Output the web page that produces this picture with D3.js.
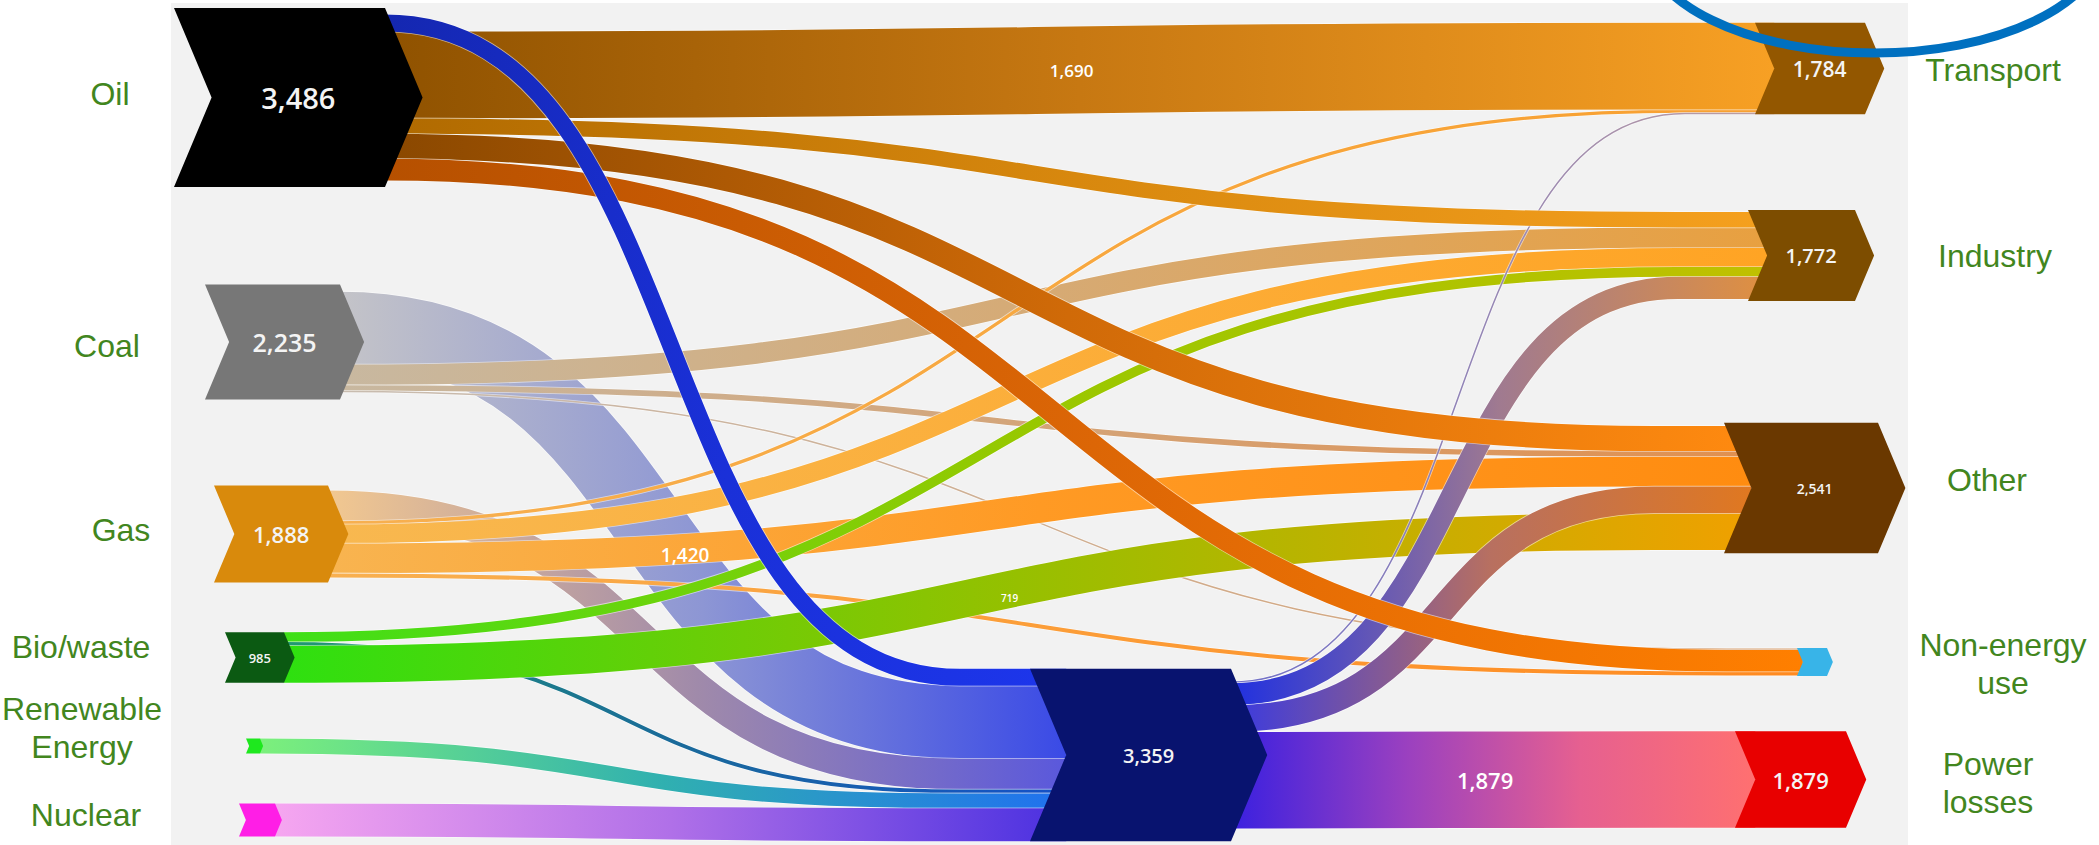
<!DOCTYPE html>
<html>
<head>
<meta charset="utf-8">
<script src="https://cdn.jsdelivr.net/npm/d3@7"></script>
<style>
  body { margin: 0; background: #ffffff; }
  svg { display: block; }
</style>
</head>
<body>
<script>
// Global variable
const w = 2099;
const h = 845;

// Nodes and their totals
const nodeNames = ["Oil", "Coal", "Gas", "Bio/waste", "Renewable Energy", "Nuclear",
                   "Power", "Transport", "Industry", "Other", "Non-energy use", "Power losses"];
const nodeValues = [3486, 2235, 1888, 985, 290, 640, 3359, 1784, 1772, 2541, 545, 1879];

// Flows, listed in the order they leave each source
const linkSources = ["Oil", "Oil", "Oil", "Oil", "Oil",
                     "Coal", "Coal", "Coal", "Coal",
                     "Gas", "Gas", "Gas", "Gas", "Gas",
                     "Bio/waste", "Bio/waste", "Bio/waste",
                     "Renewable Energy", "Nuclear",
                     "Power", "Power", "Power", "Power"];
const linkTargets = ["Power", "Transport", "Industry", "Other", "Non-energy use",
                     "Power", "Industry", "Other", "Non-energy use",
                     "Power", "Transport", "Industry", "Other", "Non-energy use",
                     "Industry", "Power", "Other",
                     "Power", "Power",
                     "Transport", "Industry", "Other", "Power losses"];
const linkValues = [330, 1690, 300, 490, 420,
                    1420, 400, 110, 30,
                    600, 64, 370, 580, 80,
                    190, 76, 719,
                    290, 640,
                    30, 432, 520, 1879];

// Side labels (text lines)
const labelLines = {
  "Oil": ["Oil"], "Coal": ["Coal"], "Gas": ["Gas"], "Bio/waste": ["Bio/waste"],
  "Renewable Energy": ["Renewable", "Energy"], "Nuclear": ["Nuclear"],
  "Transport": ["Transport"], "Industry": ["Industry"], "Other": ["Other"],
  "Non-energy use": ["Non-energy", "use"], "Power losses": ["Power", "losses"]
};

// ---- layout & style ----
const nodeLayout = {
  "Oil":              {x0: 174,  xr: 385,  cy: 97.5},
  "Coal":             {x0: 205,  xr: 340,  cy: 342},
  "Gas":              {x0: 214,  xr: 328,  cy: 534},
  "Bio/waste":        {x0: 225,  xr: 284,  cy: 657.5},
  "Renewable Energy": {x0: 246,  xr: 260,  cy: 746},
  "Nuclear":          {x0: 239,  xr: 275,  cy: 820},
  "Power":            {x0: 1030, xr: 1231, cy: 755},
  "Transport":        {x0: 1755, xr: 1865, cy: 68.5},
  "Industry":         {x0: 1748, xr: 1855, cy: 255.5},
  "Other":            {x0: 1724, xr: 1878, cy: 488},
  "Non-energy use":   {x0: 1797, xr: 1827, cy: 662},
  "Power losses":     {x0: 1735, xr: 1846, cy: 779.5}
};

const inOrder = {
  "Power": ["Oil", "Coal", "Gas", "Bio/waste", "Renewable Energy", "Nuclear"],
  "Transport": ["Oil", "Gas", "Power"],
  "Industry": ["Oil", "Coal", "Gas", "Bio/waste", "Power"],
  "Other": ["Oil", "Coal", "Gas", "Power", "Bio/waste"],
  "Non-energy use": ["Coal", "Oil", "Gas"],
  "Power losses": ["Power"]
};

const nodeColors = {
  "Oil": "#000000", "Coal": "#777777", "Gas": "#d98a0c", "Bio/waste": "#0b5a12",
  "Renewable Energy": "#1ee81e", "Nuclear": "#ff1ee6", "Power": "#08136f",
  "Transport": "#935700", "Industry": "#7d4d00", "Other": "#6a3800",
  "Non-energy use": "#38b4e8", "Power losses": "#e80000"
};

const linkColors = {
  "Oil>Power": ["#1427b0", "#1a30d8", "#1d36ec"],
  "Oil>Transport": ["#8f5200", "#c77812", "#f7a024"],
  "Oil>Industry": ["#b06a00", "#d8880e", "#f5a01e"],
  "Oil>Other": ["#8a4800", "#d06a08", "#ff8a10"],
  "Oil>Non-energy use": ["#b65000", "#dc6606", "#ff7f00"],
  "Coal>Power": ["#c4c4c8", "#8d96d4", "#3a4ae6"],
  "Coal>Industry": ["#c8b8a0", "#d6aa74", "#e8a040"],
  "Coal>Other": ["#c8b8a0", "#e09050"],
  "Coal>Non-energy use": ["#c8bcb0", "#d8a070"],
  "Gas>Power": ["#f2c890", "#a08aaa", "#5a58dc"],
  "Gas>Transport": ["#f7b050", "#f8a030"],
  "Gas>Industry": ["#f8b850", "#ffa424"],
  "Gas>Other": ["#f8b450", "#ff9a24", "#ff8c10"],
  "Gas>Non-energy use": ["#f8b050", "#ff8a20"],
  "Bio/waste>Industry": ["#3ee018", "#98c800", "#c0c000"],
  "Bio/waste>Power": ["#209a70", "#1a6a9a", "#1450c8"],
  "Bio/waste>Other": ["#2ee010", "#96c000", "#f0a000"],
  "Renewable Energy>Power": ["#7cf07c", "#30b0b0", "#2070f0"],
  "Nuclear>Power": ["#f6a6f0", "#b070e8", "#4a30e0"],
  "Power>Transport": ["#7070c8", "#c0a0a0"],
  "Power>Industry": ["#2030e0", "#a07a90", "#e09040"],
  "Power>Other": ["#3a3ae0", "#b87060", "#e07820"],
  "Power>Power losses": ["#3a20e0", "#9a40c0", "#e66090", "#ff7070"]
};

const nodeLabelSize = {
  "Oil": 29, "Coal": 25, "Gas": 22, "Bio/waste": 13, "Power": 20,
  "Transport": 21, "Industry": 20, "Other": 14, "Power losses": 22
};
const linkLabelSize = {
  "Oil>Transport": 17, "Coal>Power": 19, "Bio/waste>Other": 10, "Power>Power losses": 22
};
// nudge so the text sits on its own band, not on a crossing one
const linkLabelShift = {"Coal>Power": [-10, 30]};

const sideLabelPos = {
  "Oil": [110, 105], "Coal": [107, 357], "Gas": [121, 541], "Bio/waste": [81, 658],
  "Renewable Energy": [82, 720], "Nuclear": [86, 826],
  "Transport": [1993, 81], "Industry": [1995, 267], "Other": [1987, 491],
  "Non-energy use": [2003, 656], "Power losses": [1988, 775]
};

const drawOrder = ["Coal", "Gas", "Bio/waste", "Renewable Energy", "Nuclear", "Power", "Oil"];
const curvature = 0.55;  // >0.5 gives flatter ends and a steeper middle
const endStub = 70;      // curve finishes this far before the target node

//Create SVG element
let svg = d3.select("body")
            .append("svg")
                .attr("width", w)
                .attr("height", h);

// light panel behind the diagram
svg.append("rect")
    .attr("x", 171).attr("y", 3)
    .attr("width", 1737).attr("height", h - 3)
    .attr("fill", "#f2f2f2");

// value -> pixel thickness
const y = d3.scaleLinear().domain([0, 3486]).range([0, 179]);

const nodes = nodeNames.map((name, i) => {
    const L = nodeLayout[name];
    const hgt = y(nodeValues[i]);
    return {name: name, value: nodeValues[i], x0: L.x0, xr: L.xr, cy: L.cy,
            top: L.cy - hgt / 2, bot: L.cy + hgt / 2, hgt: hgt, tip: hgt * 0.21,
            ins: [], outs: []};
});
const byName = new Map(nodes.map(n => [n.name, n]));

const links = linkSources.map((s, i) => ({
    key: s + ">" + linkTargets[i],
    source: byName.get(s),
    target: byName.get(linkTargets[i]),
    value: linkValues[i],
    width: y(linkValues[i])
}));
links.forEach(l => { l.source.outs.push(l); l.target.ins.push(l); });

// stack flows at every node, centred on the node
nodes.forEach(n => {
    let tot = d3.sum(n.outs, l => l.width);
    let yy = n.cy - tot / 2;
    n.outs.forEach(l => { l.y0 = yy + l.width / 2; yy += l.width; });

    const order = inOrder[n.name] || [];
    n.ins.sort((a, b) => order.indexOf(a.source.name) - order.indexOf(b.source.name));
    tot = d3.sum(n.ins, l => l.width);
    yy = n.cy - tot / 2;
    n.ins.forEach(l => { l.y1 = yy + l.width / 2; yy += l.width; });
});

links.forEach(l => {
    l.xs = l.source.xr;
    l.xt = l.target.x0 + l.target.tip;
    l.xe = l.target.x0 - endStub;
    const dx = l.xe - l.xs;
    l.c1 = l.xs + dx * curvature;
    l.c2 = l.xe - dx * curvature;
});

function linkPath(l) {
    const p = d3.path();
    p.moveTo(l.xs, l.y0);
    p.bezierCurveTo(l.c1, l.y0, l.c2, l.y1, l.xe, l.y1);
    p.lineTo(l.xt, l.y1);
    return p.toString();
}

// gradients
const defs = svg.append("defs");
links.forEach((l, i) => {
    const cols = linkColors[l.key];
    const g = defs.append("linearGradient")
        .attr("id", "grad" + i)
        .attr("gradientUnits", "userSpaceOnUse")
        .attr("x1", l.xs).attr("x2", l.xt)
        .attr("y1", 0).attr("y2", 0);
    cols.forEach((c, j) => {
        g.append("stop")
            .attr("offset", (j / (cols.length - 1)) * 100 + "%")
            .attr("stop-color", c);
    });
    l.grad = "url(#grad" + i + ")";
});

const sorted = links.slice().sort((a, b) => {
    const ka = a.key === "Oil>Power" ? 99 : drawOrder.indexOf(a.source.name);
    const kb = b.key === "Oil>Power" ? 99 : drawOrder.indexOf(b.source.name);
    return ka - kb;
});

// Draw the flows
const linkG = svg.append("g").attr("fill", "none");
sorted.forEach(l => {
    const g = linkG.append("g");
    g.append("path")
        .attr("d", linkPath(l))
        .attr("stroke", "#ffffff")
        .attr("stroke-opacity", 0.55)
        .attr("stroke-width", l.width + 1.6);
    g.append("path")
        .attr("d", linkPath(l))
        .attr("stroke", l.grad)
        .attr("stroke-width", Math.max(l.width, 1));
});

// values written on the biggest flows
const shift = l => linkLabelShift[l.key] || [0, 0];
svg.append("g")
    .selectAll("text")
    .data(links.filter(l => linkLabelSize[l.key]))
    .enter()
    .append("text")
    .attr("x", l => (l.xs + l.xt) / 2 - 8 + shift(l)[0])
    .attr("y", l => (l.y0 + l.y1) / 2 + shift(l)[1])
    .attr("text-anchor", "middle")
    .attr("dominant-baseline", "central")
    .attr("fill", "#ffffff")
    .attr("font-family", "'Open Sans', sans-serif")
    .attr("font-weight", 600)
    .attr("font-size", l => linkLabelSize[l.key])
    .text(l => d3.format(",")(l.value));

// Draw the nodes (arrow shapes)
svg.append("g")
    .selectAll("polygon")
    .data(nodes)
    .enter()
    .append("polygon")
    .attr("fill", d => nodeColors[d.name])
    .attr("points", d => [
        [d.x0, d.top], [d.xr, d.top], [d.xr + d.tip, d.cy],
        [d.xr, d.bot], [d.x0, d.bot], [d.x0 + d.tip, d.cy]
    ].map(p => p.join(",")).join(" "));

svg.append("g")
    .selectAll("text")
    .data(nodes.filter(d => nodeLabelSize[d.name]))
    .enter()
    .append("text")
    .attr("x", d => (d.x0 + d.xr + d.tip) / 2)
    .attr("y", d => d.cy)
    .attr("text-anchor", "middle")
    .attr("dominant-baseline", "central")
    .attr("fill", "#f4f4f4")
    .attr("font-family", "'Open Sans', sans-serif")
    .attr("font-weight", 600)
    .attr("font-size", d => nodeLabelSize[d.name])
    .text(d => d3.format(",")(d.value));

// Side labels
const side = svg.append("g")
    .attr("font-family", "'Liberation Sans', Arial, sans-serif")
    .attr("font-size", 32)
    .attr("fill", "#42861e")
    .attr("text-anchor", "middle");
Object.keys(labelLines).forEach(name => {
    const pos = sideLabelPos[name];
    const t = side.append("text").attr("x", pos[0]).attr("y", pos[1]);
    labelLines[name].forEach((line, j) => {
        t.append("tspan")
            .attr("x", pos[0])
            .attr("dy", j === 0 ? 0 : 38)
            .text(line);
    });
});

// highlight ring drawn over the top right corner
svg.append("ellipse")
    .attr("cx", 1874).attr("cy", -60)
    .attr("rx", 230).attr("ry", 113)
    .attr("fill", "none")
    .attr("stroke", "#0070c0")
    .attr("stroke-width", 9);
</script>
</body>
</html>
